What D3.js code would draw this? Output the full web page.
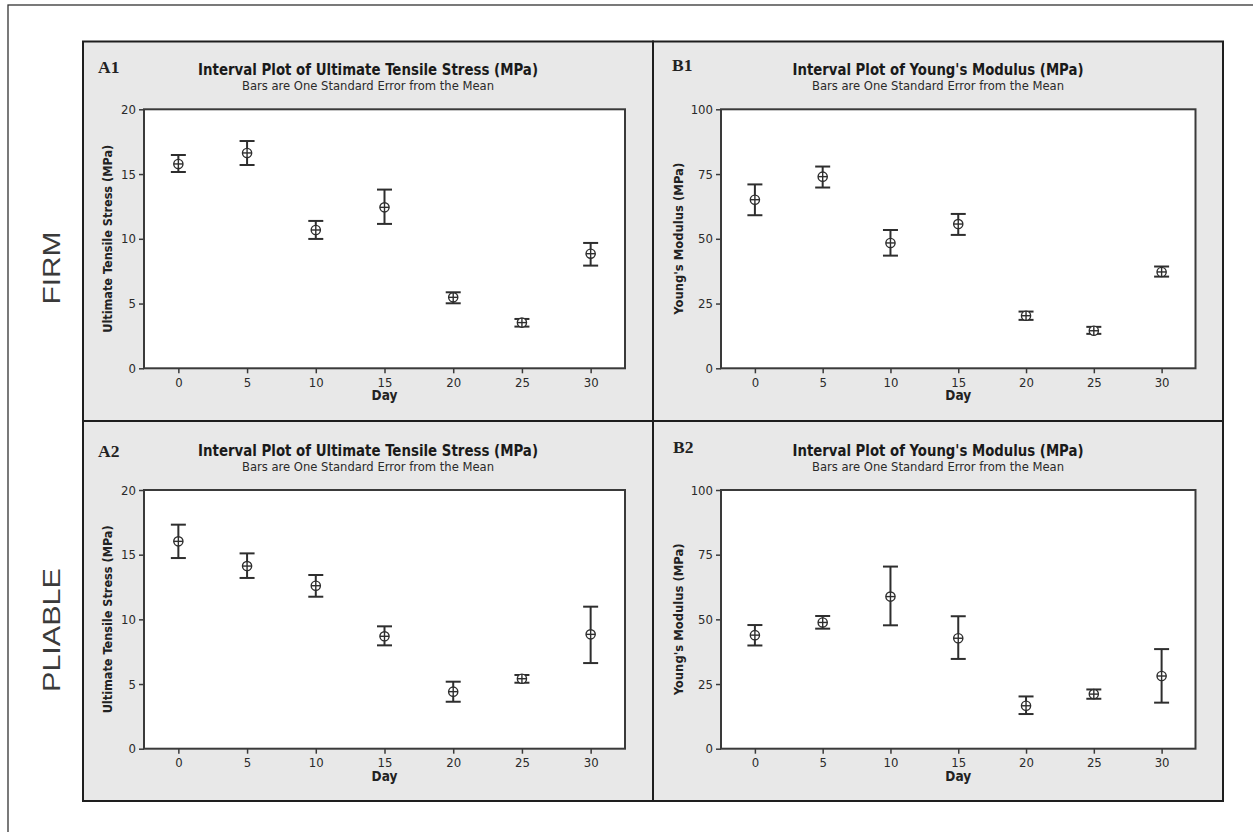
<!DOCTYPE html>
<html>
<head>
<meta charset="utf-8">
<script src="https://cdn.jsdelivr.net/npm/d3@7"></script>
<style>
  html, body { margin: 0; padding: 0; background: #ffffff; }
  svg { display: block; }
</style>
</head>
<body>
<svg id="chart" width="1253" height="832"></svg>
<script>
// ---------------- DATA ----------------
const days = [0, 5, 10, 15, 20, 25, 30];
const xTickValues = [0, 5, 10, 15, 20, 25, 30];
const utsTicks = [0, 5, 10, 15, 20];
const ymTicks = [0, 25, 50, 75, 100];

// Firm - Ultimate Tensile Stress (MPa)
const firmUtsMean  = [15.78, 16.63, 10.68, 12.43, 5.48, 3.53, 8.85];
const firmUtsUpper = [16.47, 17.55, 11.38, 13.80, 5.87, 3.81, 9.68];
const firmUtsLower = [15.16, 15.70,  9.99, 11.15, 5.02, 3.22, 7.93];

// Firm - Young's Modulus (MPa)
const firmYmMean  = [65.1, 74.0, 48.4, 55.7, 20.3, 14.5, 37.2];
const firmYmUpper = [71.0, 77.9, 53.4, 59.6, 21.9, 16.0, 39.3];
const firmYmLower = [59.1, 69.8, 43.5, 51.5, 18.7, 13.3, 35.4];

// Pliable - Ultimate Tensile Stress (MPa)
const pliUtsMean  = [16.03, 14.12, 12.60, 8.69, 4.41, 5.41, 8.84];
const pliUtsUpper = [17.32, 15.10, 13.43, 9.46, 5.18, 5.70, 10.98];
const pliUtsLower = [14.74, 13.20, 11.75, 7.99, 3.63, 5.10, 6.62];

// Pliable - Young's Modulus (MPa)
const pliYmMean  = [43.9, 48.8, 58.8, 42.7, 16.6, 21.1, 28.1];
const pliYmUpper = [47.8, 51.3, 70.4, 51.2, 20.2, 22.9, 38.5];
const pliYmLower = [39.9, 46.4, 47.7, 34.7, 13.4, 19.3, 17.8];

const titleUts = "Interval Plot of Ultimate Tensile Stress (MPa)";
const titleYm = "Interval Plot of Young's Modulus (MPa)";
const subtitleText = "Bars are One Standard Error from the Mean";
const yLabelUts = "Ultimate Tensile Stress (MPa)";
const yLabelYm = "Young's Modulus (MPa)";
const xLabelText = "Day";
const rowLabels = ["FIRM", "PLIABLE"];

// ---------------- DRAW ----------------
const svg = d3.select("#chart");
const SANS = "'DejaVu Sans Condensed', 'DejaVu Sans', Tahoma, sans-serif";

// outer frame (right/bottom edges run off the picture)
svg.append("rect")
  .attr("x", 8).attr("y", 5).attr("width", 1270).attr("height", 850)
  .attr("fill", "none").attr("stroke", "#333").attr("stroke-width", 1.3);

// row labels
const rowLabelPos = [{y: 268, len: 73}, {y: 630, len: 124}];
rowLabels.forEach((t, i) => {
  svg.append("text")
    .attr("transform", `translate(60,${rowLabelPos[i].y}) rotate(-90)`)
    .attr("text-anchor", "middle")
    .attr("font-family", "'Liberation Sans', Arial, sans-serif")
    .attr("font-size", 24)
    .attr("fill", "#3a3a3a")
    .attr("textLength", rowLabelPos[i].len)
    .attr("lengthAdjust", "spacingAndGlyphs")
    .text(t);
});

const panels = [
  {id: "A1", px: 83, py: 41.5, pw: 570, ph: 379.5, left: 144, right: 625, top: 109.3, bottom: 368.3,
   title: titleUts, titleW: 340, yLabel: yLabelUts, yLabelLen: 188, yLabelX: 107,
   yMax: 20, yTicks: utsTicks, mean: firmUtsMean, hi: firmUtsUpper, lo: firmUtsLower, idY: 73, idX: 98},
  {id: "B1", px: 653, py: 41.5, pw: 570, ph: 379.5, left: 721, right: 1195.5, top: 109.3, bottom: 368.3,
   title: titleYm, titleW: 291, yLabel: yLabelYm, yLabelLen: 152, yLabelX: 678,
   yMax: 100, yTicks: ymTicks, mean: firmYmMean, hi: firmYmUpper, lo: firmYmLower, idY: 71, idX: 672},
  {id: "A2", px: 83, py: 421, pw: 570, ph: 380, left: 144, right: 625, top: 490, bottom: 748.7,
   title: titleUts, titleW: 340, yLabel: yLabelUts, yLabelLen: 188, yLabelX: 107,
   yMax: 20, yTicks: utsTicks, mean: pliUtsMean, hi: pliUtsUpper, lo: pliUtsLower, idY: 457, idX: 98},
  {id: "B2", px: 653, py: 421, pw: 570, ph: 380, left: 721, right: 1195.5, top: 490, bottom: 748.7,
   title: titleYm, titleW: 291, yLabel: yLabelYm, yLabelLen: 152, yLabelX: 678,
   yMax: 100, yTicks: ymTicks, mean: pliYmMean, hi: pliYmUpper, lo: pliYmLower, idY: 453, idX: 673}
];

panels.forEach(p => {
  const g = svg.append("g");
  // panel background
  g.append("rect")
    .attr("x", p.px).attr("y", p.py).attr("width", p.pw).attr("height", p.ph)
    .attr("fill", "#e8e8e8").attr("stroke", "#1e1e1e").attr("stroke-width", 2);

  const cx = p.px + p.pw / 2;
  // panel id
  g.append("text")
    .attr("x", p.idX).attr("y", p.idY)
    .attr("font-family", "'Liberation Serif', 'Times New Roman', serif")
    .attr("font-weight", "bold").attr("font-size", 17.5).attr("fill", "#222")
    .text(p.id);
  // title
  g.append("text")
    .attr("x", cx).attr("y", p.top - 34.5)
    .attr("text-anchor", "middle")
    .attr("font-family", SANS).attr("font-weight", "bold").attr("font-size", 15)
    .attr("fill", "#1a1a1a")
    .attr("textLength", p.titleW).attr("lengthAdjust", "spacingAndGlyphs")
    .text(p.title);
  // subtitle
  g.append("text")
    .attr("x", cx).attr("y", p.top - 19.5)
    .attr("text-anchor", "middle")
    .attr("font-family", SANS).attr("font-size", 12.5)
    .attr("fill", "#2a2a2a")
    .attr("textLength", 252).attr("lengthAdjust", "spacingAndGlyphs")
    .text(subtitleText);

  // scales
  const x = d3.scaleLinear().domain([-2.5, 32.5]).range([p.left, p.right]);
  const y = d3.scaleLinear().domain([0, p.yMax]).range([p.bottom, p.top]);

  // plot area
  g.append("rect")
    .attr("x", p.left).attr("y", p.top)
    .attr("width", p.right - p.left).attr("height", p.bottom - p.top)
    .attr("fill", "#ffffff").attr("stroke", "#3a3a3a").attr("stroke-width", 2);

  // axes
  const xAxis = d3.axisBottom(x).tickValues(xTickValues).tickSize(5).tickPadding(4).tickFormat(d3.format("d"));
  const yAxis = d3.axisLeft(y).tickValues(p.yTicks).tickSize(5).tickPadding(3).tickFormat(d3.format("d"));
  const gx = g.append("g").attr("transform", `translate(0,${p.bottom})`).call(xAxis);
  const gy = g.append("g").attr("transform", `translate(${p.left},0)`).call(yAxis);
  [gx, gy].forEach(a => {
    a.select(".domain").remove();
    a.selectAll(".tick line").attr("stroke", "#3a3a3a").attr("stroke-width", 1.5);
    a.selectAll(".tick text")
      .attr("font-family", SANS).attr("font-size", 13).attr("fill", "#2a2a2a");
  });

  // x label
  g.append("text")
    .attr("x", (p.left + p.right) / 2).attr("y", p.bottom + 32)
    .attr("text-anchor", "middle")
    .attr("font-family", SANS).attr("font-weight", "bold").attr("font-size", 13.5)
    .attr("fill", "#222").text(xLabelText);
  // y label
  g.append("text")
    .attr("transform", `translate(${p.yLabelX + 5},${(p.top + p.bottom) / 2}) rotate(-90)`)
    .attr("text-anchor", "middle")
    .attr("font-family", SANS).attr("font-weight", "bold").attr("font-size", 12.5)
    .attr("fill", "#222")
    .attr("textLength", p.yLabelLen).attr("lengthAdjust", "spacingAndGlyphs")
    .text(p.yLabel);

  // interval bars
  const data = days.map((d, i) => ({day: d, mean: p.mean[i], lo: p.lo[i], hi: p.hi[i]}));
  const capW = 7.5;
  const bars = g.append("g").attr("stroke", "#2e2e2e").attr("fill", "none");
  bars.selectAll("line.v").data(data).join("line")
    .attr("x1", d => x(d.day)).attr("x2", d => x(d.day))
    .attr("y1", d => y(d.hi)).attr("y2", d => y(d.lo))
    .attr("stroke-width", 2);
  bars.selectAll("line.top").data(data).join("line")
    .attr("x1", d => x(d.day) - capW).attr("x2", d => x(d.day) + capW)
    .attr("y1", d => y(d.hi)).attr("y2", d => y(d.hi))
    .attr("stroke-width", 2);
  bars.selectAll("line.bot").data(data).join("line")
    .attr("x1", d => x(d.day) - capW).attr("x2", d => x(d.day) + capW)
    .attr("y1", d => y(d.lo)).attr("y2", d => y(d.lo))
    .attr("stroke-width", 2);

  // mean symbols (circle with cross)
  const r = 4.6;
  const sym = g.append("g").attr("stroke", "#2e2e2e").attr("stroke-width", 1.4);
  sym.selectAll("circle").data(data).join("circle")
    .attr("cx", d => x(d.day)).attr("cy", d => y(d.mean)).attr("r", r)
    .attr("fill", "#ffffff");
  sym.selectAll("line.h").data(data).join("line")
    .attr("x1", d => x(d.day) - r).attr("x2", d => x(d.day) + r)
    .attr("y1", d => y(d.mean)).attr("y2", d => y(d.mean));
  sym.selectAll("line.vv").data(data).join("line")
    .attr("class", "vv")
    .attr("x1", d => x(d.day)).attr("x2", d => x(d.day))
    .attr("y1", d => y(d.mean) - r).attr("y2", d => y(d.mean) + r);
});
</script>
</body>
</html>
